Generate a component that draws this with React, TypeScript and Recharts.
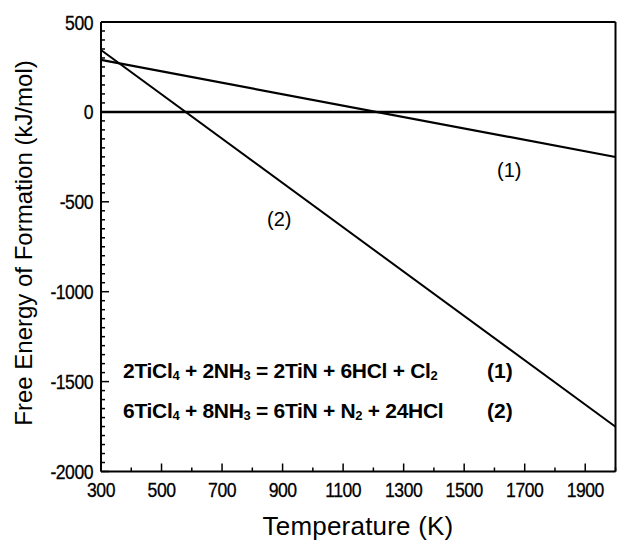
import React from "react";
import { LineChart, Line, XAxis, YAxis, ReferenceLine, Customized } from "recharts";

const temperatures = [300, 2000];
const reaction1 = [289, -251];
const reaction2 = [344, -1751];

const xMajorLabels = [300, 500, 700, 900, 1100, 1300, 1500, 1700, 1900];
const xTicks = [300, 400, 500, 600, 700, 800, 900, 1000, 1100, 1200, 1300, 1400, 1500, 1600, 1700, 1800, 1900, 2000];
const yMajorLabels = [500, 0, -500, -1000, -1500, -2000];
const yTicks: number[] = [];
for (let v = -2000; v <= 500; v += 50) yTicks.push(v);

const data = temperatures.map((t, i) => ({ t, r1: reaction1[i], r2: reaction2[i] }));

const FONT = "'Liberation Sans', Arial, sans-serif";

const XTick = (props: any) => {
  const { x, y, payload } = props;
  const v = payload.value;
  const major = xMajorLabels.includes(v);
  return (
    <g>
      <line x1={x} y1={y} x2={x} y2={y - (major ? 8 : 4)} stroke="#000" strokeWidth={1.5} />
      {major && (
        <text
          transform={`translate(${x},${y + 25}) scale(0.84,1)`}
          textAnchor="middle"
          fontFamily={FONT}
          fontSize={21}
          letterSpacing={-0.6}
          fill="#000"
          stroke="#000"
          strokeWidth={0.3}
        >
          {v}
        </text>
      )}
    </g>
  );
};

const YTick = (props: any) => {
  const { x, y, payload } = props;
  const v = payload.value;
  const major = yMajorLabels.includes(v);
  return (
    <g>
      <line x1={x} y1={y} x2={x + (major ? 8 : 4)} y2={y} stroke="#000" strokeWidth={1.5} />
      {major && (
        <text
          transform={`translate(${x - 8},${y + 7.5}) scale(0.84,1)`}
          textAnchor="end"
          fontFamily={FONT}
          fontSize={21}
          letterSpacing={-0.6}
          fill="#000"
          stroke="#000"
          strokeWidth={0.3}
        >
          {v}
        </text>
      )}
    </g>
  );
};

const Annotations = () => (
  <g fontFamily={FONT} fill="#000">
    <text x={358} y={535} textAnchor="middle" fontSize={26} letterSpacing={0.2}>Temperature (K)</text>
    <text transform="translate(32,243) rotate(-90)" textAnchor="middle" fontSize={24}>
      Free Energy of Formation (kJ/mol)
    </text>
    <text x={497} y={177} fontSize={20}>(1)</text>
    <text x={267} y={226} fontSize={20}>(2)</text>
    <text x={123} y={378} fontSize={21} fontWeight="bold" letterSpacing={-0.3}>
      2TiCl<tspan fontSize={13} dy={2}>4</tspan>
      <tspan dy={-2}> + 2NH</tspan><tspan fontSize={13} dy={2}>3</tspan>
      <tspan dy={-2}> = 2TiN + 6HCl + Cl</tspan><tspan fontSize={13} dy={2}>2</tspan>
    </text>
    <text x={487} y={378} fontSize={21} fontWeight="bold">(1)</text>
    <text x={123} y={418} fontSize={21} fontWeight="bold" letterSpacing={-0.3}>
      6TiCl<tspan fontSize={13} dy={2}>4</tspan>
      <tspan dy={-2}> + 8NH</tspan><tspan fontSize={13} dy={2}>3</tspan>
      <tspan dy={-2}> = 6TiN + N</tspan><tspan fontSize={13} dy={2}>2</tspan>
      <tspan dy={-2}> + 24HCl</tspan>
    </text>
    <text x={487} y={418} fontSize={21} fontWeight="bold">(2)</text>
  </g>
);

export default function App() {
  return (
    <div style={{ position: "absolute", left: 0, top: 0, width: 619, height: 550, background: "#fff" }}>
      <LineChart width={619} height={550} data={data} margin={{ top: 22, right: 3.5, bottom: 0, left: 0 }}>
        <XAxis
          dataKey="t"
          type="number"
          domain={[300, 2000]}
          ticks={xTicks}
          interval={0}
          height={78.5}
          tickSize={0}
          tickMargin={0}
          tickLine={false}
          axisLine={{ stroke: "#000", strokeWidth: 2 }}
          tick={<XTick />}
        />
        <YAxis
          type="number"
          domain={[-2000, 500]}
          ticks={yTicks}
          interval={0}
          width={101}
          tickSize={0}
          tickMargin={0}
          tickLine={false}
          axisLine={{ stroke: "#000", strokeWidth: 2 }}
          tick={<YTick />}
        />
        <ReferenceLine y={500} stroke="#000" strokeWidth={2} />
        <ReferenceLine x={2000} stroke="#000" strokeWidth={2} />
        <ReferenceLine y={0} stroke="#000" strokeWidth={2.5} />
        <Line dataKey="r1" stroke="#000" strokeWidth={2.2} dot={false} isAnimationActive={false} />
        <Line dataKey="r2" stroke="#000" strokeWidth={2} dot={false} isAnimationActive={false} />
        <Customized component={<Annotations />} />
      </LineChart>
    </div>
  );
}
